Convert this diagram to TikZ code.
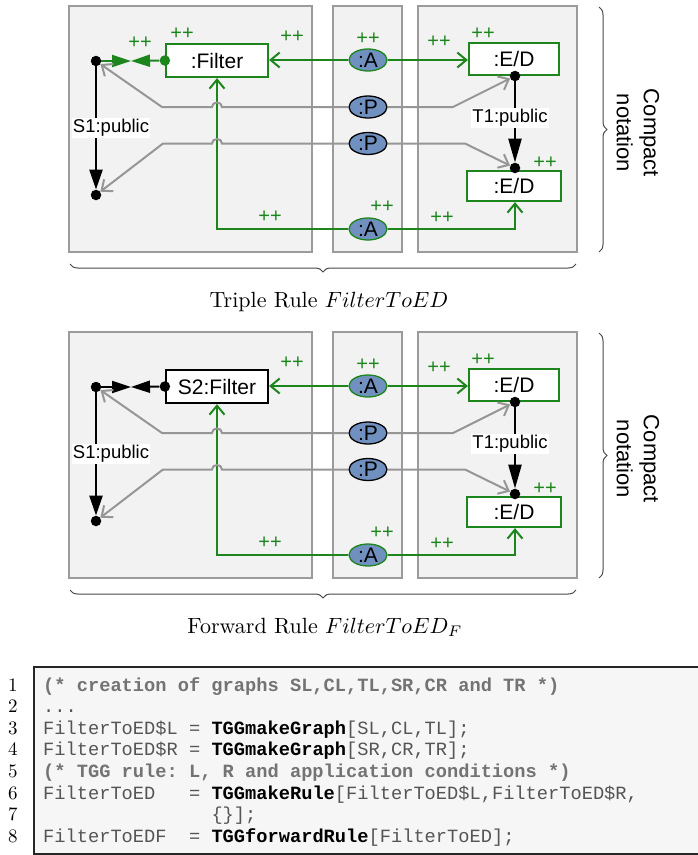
\documentclass[tikz,border=0pt]{standalone}
\usepackage{fontspec}
\newfontfamily\sanf{Liberation Sans}
\newfontfamily\monof{Liberation Mono}
\usetikzlibrary{arrows.meta,shapes.geometric,decorations.pathreplacing}
\definecolor{tgreen}{RGB}{28,134,28}
\definecolor{lgray}{RGB}{150,150,150}
\definecolor{panelfill}{RGB}{242,242,242}
\definecolor{panelline}{RGB}{155,155,155}
\definecolor{ellblue}{RGB}{112,144,192}
\definecolor{codegray}{RGB}{85,85,85}
\definecolor{commgray}{RGB}{115,115,115}
\definecolor{codebg}{RGB}{246,246,246}
\definecolor{bracegray}{RGB}{70,70,70}
\newcommand\blanks[1]{\hspace*{#1\fontcharwd\font`0}}
\tikzset{
  panel/.style={draw=panelline, fill=panelfill, line width=1.3pt},
  objbox/.style={draw=#1, fill=white, line width=2.2pt, inner sep=0pt,
    font={\sanf\fontsize{21}{24}\selectfont}},
  dotnode/.style={circle, fill=#1, inner sep=0pt, minimum size=10.5pt},
  corr/.style={ellipse, draw=#1, fill=ellblue, line width=1.3pt, inner sep=0pt,
    minimum width=38pt, minimum height=22pt, font={\sanf\fontsize{21}{22}\selectfont}},
  plus/.style={text=tgreen, inner sep=0pt, font={\sanf\fontsize{20}{20}\selectfont}},
  elabel/.style={fill=white, inner sep=1pt, font={\sanf\fontsize{18.5}{20}\selectfont}},
  garr/.style={draw=tgreen, line width=2pt, -{Straight Barb[length=9pt,width=15pt]}},
  parr/.style={draw=lgray, line width=2pt, -{Straight Barb[length=9pt,width=15pt]}},
  sarr/.style={draw=black, line width=2.5pt, -{Triangle[length=20pt,width=13pt]}},
  tarr/.style={draw=black, line width=2.5pt, -{Triangle[length=24pt,width=13pt]}},
  midarr/.style={draw=#1, line width=2pt, -{Triangle[length=19pt,width=12pt]}},
  bracestyle/.style={draw=bracegray, line width=1pt, decorate},
  codeline/.style={anchor=base west, inner sep=0pt, text=codegray,
    font={\monof\fontsize{18.7}{21}\selectfont\frenchspacing}},
  lnum/.style={anchor=base east, inner sep=0pt, scale=1.9},
  caption/.style={anchor=base, inner sep=0pt, scale=2.2},
  side/.style={rotate=-90, align=center, inner sep=0pt,
    font={\sanf\fontsize{22}{27}\selectfont}}
}
% #1 y offset, #2 name prefix, #3 filter label, #4 filter colour
\newcommand\tggrule[4]{%
\begin{scope}[shift={(0,#1)}, name prefix=#2-]
  \draw[panel] (69,6) rectangle (312,252);
  \draw[panel] (333,6) rectangle (402,252);
  \draw[panel] (418,6) rectangle (577,252);
  % source
  \node[objbox=#4, minimum width=102pt, minimum height=33pt] (filter) at (217,60.5) {#3};
  \node[dotnode=#4] (fdot) at (filter.west) {};
  \node[dotnode=black] (ld) at (96,61) {};
  \node[dotnode=black] (bd) at (96,195) {};
  \coordinate (mid) at (131,61);
  % correspondence
  \node[corr=tgreen] (A1) at (368,60) {:A};
  \node[corr=black] (P1) at (368,107) {:P};
  \node[corr=black] (P2) at (368,143.5) {:P};
  \node[corr=tgreen] (A2) at (368,229) {:A};
  % target
  \node[objbox=tgreen, minimum width=90pt, minimum height=32pt] (ed1) at (514,59) {:E/D};
  \node[objbox=tgreen, minimum width=94pt, minimum height=30pt] (ed2) at (514,186) {:E/D};
  \node[dotnode=black] (t1) at (515,76) {};
  \node[dotnode=black] (t2) at (515,168) {};
  % source edges
  \draw[midarr=#4] (ld) -- (mid);
  \draw[midarr=#4] (fdot) -- (mid);
  \draw[sarr] (ld) -- (bd) node[elabel, pos=0.5, xshift=15pt] (s1l) {S1:public};
  \draw[tarr] (t1) -- (t2) node[elabel, pos=0.45, xshift=-5pt] (t1l) {T1:public};
  % green correspondence edges
  \draw[garr] (A1.west) -- (A1.west -| filter.east);
  \draw[garr] (A1.east) -- (A1.east -| ed1.west);
  \draw[garr] (A2.west) -| (filter.south);
  \draw[garr] (A2.east) -| (t2 |- ed2.south);
  % grey correspondence edges
  \draw[parr] (P1.west) -- (222,107) .. controls (222,101) and (212,101) .. (212,107) -- (162,107) -- (ld);
  \draw[parr] (P1.east) -- (453,107) -- (t1);
  \draw[parr] (P2.west) -- (222,143.5) .. controls (222,137.5) and (212,137.5) .. (212,143.5) -- (163,143.5) -- (bd);
  \draw[parr] (P2.east) -- (465,143.5) -- (t2);
  % ++ marks
  \node[plus] (p1) at (292,37) {++};
  \node[plus] (p2) at (368,39) {++};
  \node[plus] (p3) at (439,42) {++};
  \node[plus] (p4) at (483,34) {++};
  \node[plus] (p5) at (545,163) {++};
  \node[plus] (p6) at (382,207) {++};
  \node[plus] (p7) at (442,218) {++};
  \node[plus] (p8) at (270,217) {++};
  % braces
  \draw[bracestyle, decoration={brace, amplitude=8pt}] (599,7) -- (599,252);
  \node[side] (cn) at (638,133) {Compact\\notation};
  \draw[bracestyle, decoration={brace, amplitude=8pt, mirror}] (70,264) -- (576,264);
\end{scope}}
\begin{document}
\begin{tikzpicture}[x=1pt,y=-1pt]
\useasboundingbox (0,0) rectangle (697,855);
\tggrule{0}{t}{:Filter}{tgreen}
\tggrule{326}{f}{S2:Filter}{black}
\node[plus] (tp1) at (140,43) {++};
\node[plus] (tp2) at (182,34) {++};
\node[caption] (cap1) at (329,307) {Triple Rule $FilterToED$};
\node[caption] (cap2) at (325,633) {Forward Rule $FilterToED_F$};
% listing
\draw[draw=black!85, line width=1.2pt, fill=codebg] (34,667) rectangle (702,854);
\foreach \i in {1,...,8} {
  \node[lnum] (n\i) at (18,{691+21.6*(\i-1)}) {\i};
}
\node[codeline] (c1) at (43,691) {\bfseries\color{commgray}(* creation of graphs SL,CL,TL,SR,CR and TR *)};
\node[codeline] (c2) at (43,712.6) {...};
\node[codeline] (c3) at (43,734.2) {FilterToED\$L = {\bfseries\color{black}TGGmakeGraph}[SL,CL,TL];};
\node[codeline] (c4) at (43,755.8) {FilterToED\$R = {\bfseries\color{black}TGGmakeGraph}[SR,CR,TR];};
\node[codeline] (c5) at (43,777.4) {\bfseries\color{commgray}(* TGG rule: L, R and application conditions *)};
\node[codeline] (c6) at (43,799) {FilterToED\blanks{3}= {\bfseries\color{black}TGGmakeRule}[FilterToED\$L,FilterToED\$R,};
\node[codeline] (c7) at (43,820.6) {\blanks{15}\{\}];};
\node[codeline] (c8) at (43,842.2) {FilterToEDF\blanks{2}= {\bfseries\color{black}TGGforwardRule}[FilterToED];};
\end{tikzpicture}
\end{document}
